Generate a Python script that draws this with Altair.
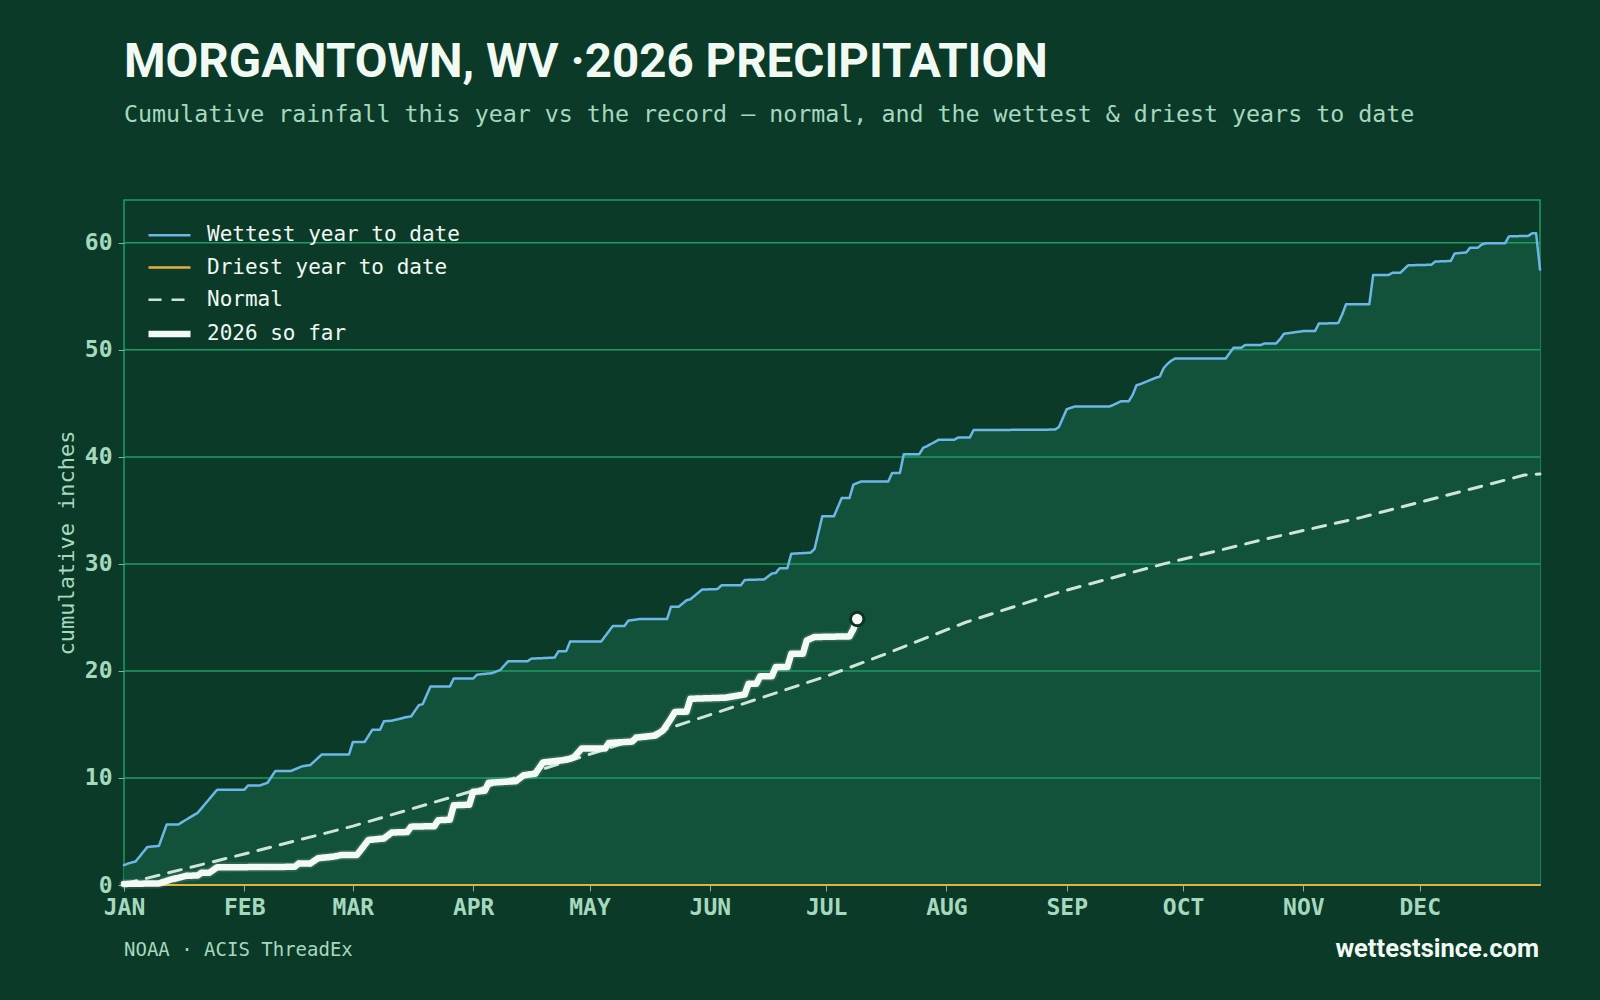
import altair as alt
import pandas as pd

TITLE = "MORGANTOWN, WV ·2026 PRECIPITATION"
SUBTITLE = ("Cumulative rainfall this year vs the record \u2014 normal, "
            "and the wettest & driest years to date")
SOURCE = "NOAA · ACIS ThreadEx"
SITE = "wettestsince.com"
Y_TITLE = "cumulative inches"

SERIES = ["Wettest year to date", "Driest year to date", "Normal", "2026 so far"]

# Day of year (0 = Jan 1) and cumulative inches for each series
wettest_day = [0, 1, 3, 6, 9, 11, 14, 16, 19, 24, 31, 32, 35, 37, 39, 43, 46, 48,
               51, 58, 59, 62, 64, 66, 67, 69, 73, 74, 76, 77, 79, 84, 85, 90, 91,
               95, 97, 99, 104, 105, 111, 112, 114, 115, 123, 126, 129, 130, 133,
               140, 141, 143, 145, 146, 149, 153, 154, 159, 160, 165, 167, 168,
               169, 171, 172, 177, 178, 180, 183, 185, 187, 188, 190, 197, 198,
               200, 201, 205, 206, 207, 210, 214, 215, 218, 219, 240, 241, 243,
               245, 254, 255, 257, 259, 260, 261, 262, 264, 266, 267, 268, 269,
               270, 271, 284, 286, 288, 289, 293, 294, 297, 298, 299, 301, 304,
               307, 308, 313, 314, 315, 321, 322, 326, 327, 329, 331, 337, 338,
               342, 343, 346, 347, 349, 350, 351, 356, 357, 362, 363, 364, 365]
wettest_in = [1.85, 2.0, 2.2, 3.55, 3.65, 5.65, 5.65, 6.1, 6.75, 8.9, 8.9, 9.3,
              9.3, 9.55, 10.65, 10.65, 11.1, 11.2, 12.2, 12.2, 13.35, 13.35, 14.5,
              14.5, 15.3, 15.35, 15.7, 15.75, 16.8, 16.9, 18.55, 18.55, 19.3,
              19.3, 19.65, 19.8, 20.1, 20.9, 20.9, 21.15, 21.25, 21.85, 21.85,
              22.75, 22.75, 24.2, 24.2, 24.7, 24.85, 24.85, 26.0, 26.0, 26.6,
              26.7, 27.6, 27.65, 28.0, 28.0, 28.5, 28.55, 29.1, 29.15, 29.6,
              29.6, 30.95, 31.05, 31.4, 34.45, 34.45, 36.15, 36.15, 37.4, 37.7,
              37.7, 38.5, 38.5, 40.25, 40.25, 40.85, 41.0, 41.6, 41.6, 41.8, 41.8,
              42.5, 42.55, 42.8, 44.45, 44.7, 44.7, 44.85, 45.2, 45.2, 45.8, 46.7,
              46.8, 47.1, 47.4, 47.5, 48.3, 48.7, 49.0, 49.2, 49.2, 50.2, 50.2,
              50.45, 50.45, 50.6, 50.6, 51.0, 51.5, 51.6, 51.75, 51.75, 52.45,
              52.5, 53.3, 54.25, 54.25, 57.0, 57.0, 57.2, 57.2, 57.9, 57.95,
              58.25, 58.3, 59.0, 59.1, 59.55, 59.55, 59.85, 59.95, 59.95, 60.6,
              60.65, 60.9, 60.9, 57.5]

driest_day = [0, 365]
driest_in = [0.0, 0.0]

normal_day = [0, 31, 59, 90, 120, 151, 181, 195, 217, 241, 268, 294, 319, 344,
              361, 365]
normal_in = [0.1, 2.9, 5.5, 8.8, 12.2, 15.9, 19.5, 21.4, 24.55, 27.35, 30.0,
             32.3, 34.35, 36.7, 38.3, 38.4]

ytd_day = [0, 9, 12, 16, 19, 20, 22, 24, 36, 44, 45, 48, 50, 54, 56, 60, 61, 63,
           67, 69, 73, 74, 80, 81, 84, 85, 89, 90, 93, 94, 101, 103, 106, 108,
           113, 115, 116, 118, 124, 125, 131, 132, 137, 139, 141, 142, 145, 146,
           155, 160, 161, 163, 164, 167, 168, 171, 172, 175, 176, 178, 187, 188,
           189]
ytd_in = [0.1, 0.15, 0.5, 0.85, 0.9, 1.15, 1.15, 1.65, 1.68, 1.7, 2.0, 2.0, 2.5,
          2.65, 2.8, 2.8, 3.25, 4.2, 4.35, 4.9, 4.95, 5.45, 5.5, 6.05, 6.1, 7.45,
          7.5, 8.7, 8.8, 9.55, 9.7, 10.25, 10.4, 11.45, 11.65, 11.8, 11.95,
          12.75, 12.75, 13.27, 13.4, 13.77, 13.96, 14.46, 15.55, 16.17, 16.2,
          17.4, 17.5, 17.8, 18.8, 18.8, 19.5, 19.5, 20.37, 20.37, 21.6, 21.6,
          22.85, 23.17, 23.23, 23.9, 24.85]

grid_in = [0, 10, 20, 30, 40, 50, 60]

BG = "#0c3a29"
FILL = "#13523a"
GRID = "#1c9c62"
WET = "#6db7e8"
DRY = "#e4b23f"
NORMAL = "#cde6d6"
YTD = "#f3faf5"
MINT = "#a5d9bd"
INK = "#f1f9f3"
MONO = "DejaVu Sans Mono"
SANS = "Roboto"

# stroke width and dash of each series, in SERIES order
WIDTHS = [2.5, 2.2, 3.0, 6.5]
DASHES = [[1, 0], [1, 0], [13, 10], [1, 0]]

START = pd.Timestamp("2026-01-01")


def frame(series, days, values):
    dates = [(START + pd.Timedelta(days=d)).strftime("%Y-%m-%dT00:00:00Z") for d in days]
    return pd.DataFrame({"series": series, "date": dates, "inches": values})


wet_df = frame(SERIES[0], wettest_day, wettest_in)
dry_df = frame(SERIES[1], driest_day, driest_in)
norm_df = frame(SERIES[2], normal_day, normal_in)
ytd_df = frame(SERIES[3], ytd_day, ytd_in)
lines_df = pd.concat([wet_df, dry_df, norm_df, ytd_df], ignore_index=True)
grid_df = pd.DataFrame({"inches": grid_in})

month_ticks = [alt.DateTime(year=2026, month=m, date=1, utc=True) for m in range(1, 13)]

x_enc = alt.X(
    "date:T",
    title=None,
    scale=alt.Scale(
        type="utc",
        domain=[alt.DateTime(year=2026, month=1, date=1, utc=True),
                alt.DateTime(year=2027, month=1, date=1, utc=True)],
        nice=False,
    ),
    axis=alt.Axis(
        values=month_ticks,
        labelExpr="upper(utcFormat(datum.value, '%b'))",
        grid=False, domain=False, ticks=True, tickSize=6, tickColor="#7fb69a",
        labelPadding=5, labelFont=MONO, labelFontWeight="bold", labelFontSize=23,
        labelColor=MINT, labelAlign="center",
    ),
)
y_enc = alt.Y(
    "inches:Q",
    scale=alt.Scale(domain=[0, 64], nice=False, zero=True),
    axis=alt.Axis(
        values=grid_in, grid=False, domain=False, ticks=True, tickSize=6,
        tickColor="#7fb69a", labelPadding=6, labelFont=MONO,
        labelFontWeight="bold", labelFontSize=23, labelColor=MINT,
        title=Y_TITLE, titleFont=MONO, titleFontSize=22, titleFontWeight="normal",
        titleColor=MINT, titlePadding=6,
    ),
)

# legend symbols: a thick stroke for the current year, thin for the rest
legend = alt.Legend(
    title=None, orient="none", legendX=20, legendY=24.8, direction="vertical",
    symbolType="M-2,0L2,0", symbolSize=441, symbolOffset=15, labelOffset=27,
    symbolStrokeWidth=alt.ExprRef(
        f"datum.value === '{SERIES[3]}' ? {WIDTHS[3]} : {WIDTHS[0]}"
    ),
    labelFont=MONO, labelFontSize=21, labelColor="#eef8f1", rowPadding=10.2,
    labelLimit=600, padding=0,
)
color_enc = alt.Color(
    "series:N",
    scale=alt.Scale(domain=SERIES, range=[WET, DRY, NORMAL, YTD]),
    legend=legend,
)
dash_enc = alt.StrokeDash(
    "series:N",
    scale=alt.Scale(domain=SERIES, range=DASHES),
    legend=legend,
)


def series_line(i):
    name = SERIES[i]
    return alt.Chart(lines_df).transform_filter(
        alt.datum.series == name
    ).mark_line(
        strokeJoin="round", strokeCap="round", strokeWidth=WIDTHS[i],
    ).encode(
        x=x_enc, y=y_enc, color=color_enc, strokeDash=dash_enc
    )


area = alt.Chart(wet_df).mark_area(color=FILL, opacity=1).encode(x=x_enc, y=y_enc)

grid = alt.Chart(grid_df).mark_rule(color=GRID, strokeWidth=1.5).encode(y=y_enc)

halo = alt.Chart(ytd_df).mark_line(
    color=YTD, opacity=0.12, strokeWidth=10, strokeJoin="round", strokeCap="round"
).encode(x=x_enc, y=y_enc)

last_pt = alt.Chart(ytd_df.tail(1)).mark_point(
    shape="circle", filled=True, size=180, fill=YTD, stroke="#0d3326",
    strokeWidth=3, opacity=1
).encode(x=x_enc, y=y_enc)

PLOT_W, PLOT_H = 1416, 685

source_txt = alt.Chart(pd.DataFrame({"t": [SOURCE]})).mark_text(
    align="left", baseline="alphabetic", font=MONO, fontSize=19, color=MINT
).encode(text="t:N", x=alt.value(0), y=alt.value(PLOT_H + 71))

site_txt = alt.Chart(pd.DataFrame({"t": [SITE]})).mark_text(
    align="right", baseline="alphabetic", font=SANS, fontWeight="bold",
    fontSize=25.5, color=INK
).encode(text="t:N", x=alt.value(PLOT_W - 1), y=alt.value(PLOT_H + 72))

chart = alt.layer(
    area, grid, series_line(0), series_line(1), series_line(2), halo,
    series_line(3), last_pt, source_txt, site_txt
).properties(
    width=PLOT_W,
    height=PLOT_H,
    padding={"left": 124, "top": 200, "right": 60, "bottom": 115},
    autosize=alt.AutoSizeParams(type="none"),
    background=BG,
    title=alt.TitleParams(
        text=TITLE, subtitle=SUBTITLE, anchor="start", frame="group",
        font=SANS, fontSize=47.5, fontWeight="bold", color=INK,
        subtitleFont=MONO, subtitleFontSize=23.3, subtitleColor=MINT,
        subtitlePadding=17, offset=74,
    ),
).configure_view(
    stroke=GRID, strokeWidth=1.5, fill=BG
)

chart.save("out.html", embed_options={"renderer": "svg", "actions": False})
